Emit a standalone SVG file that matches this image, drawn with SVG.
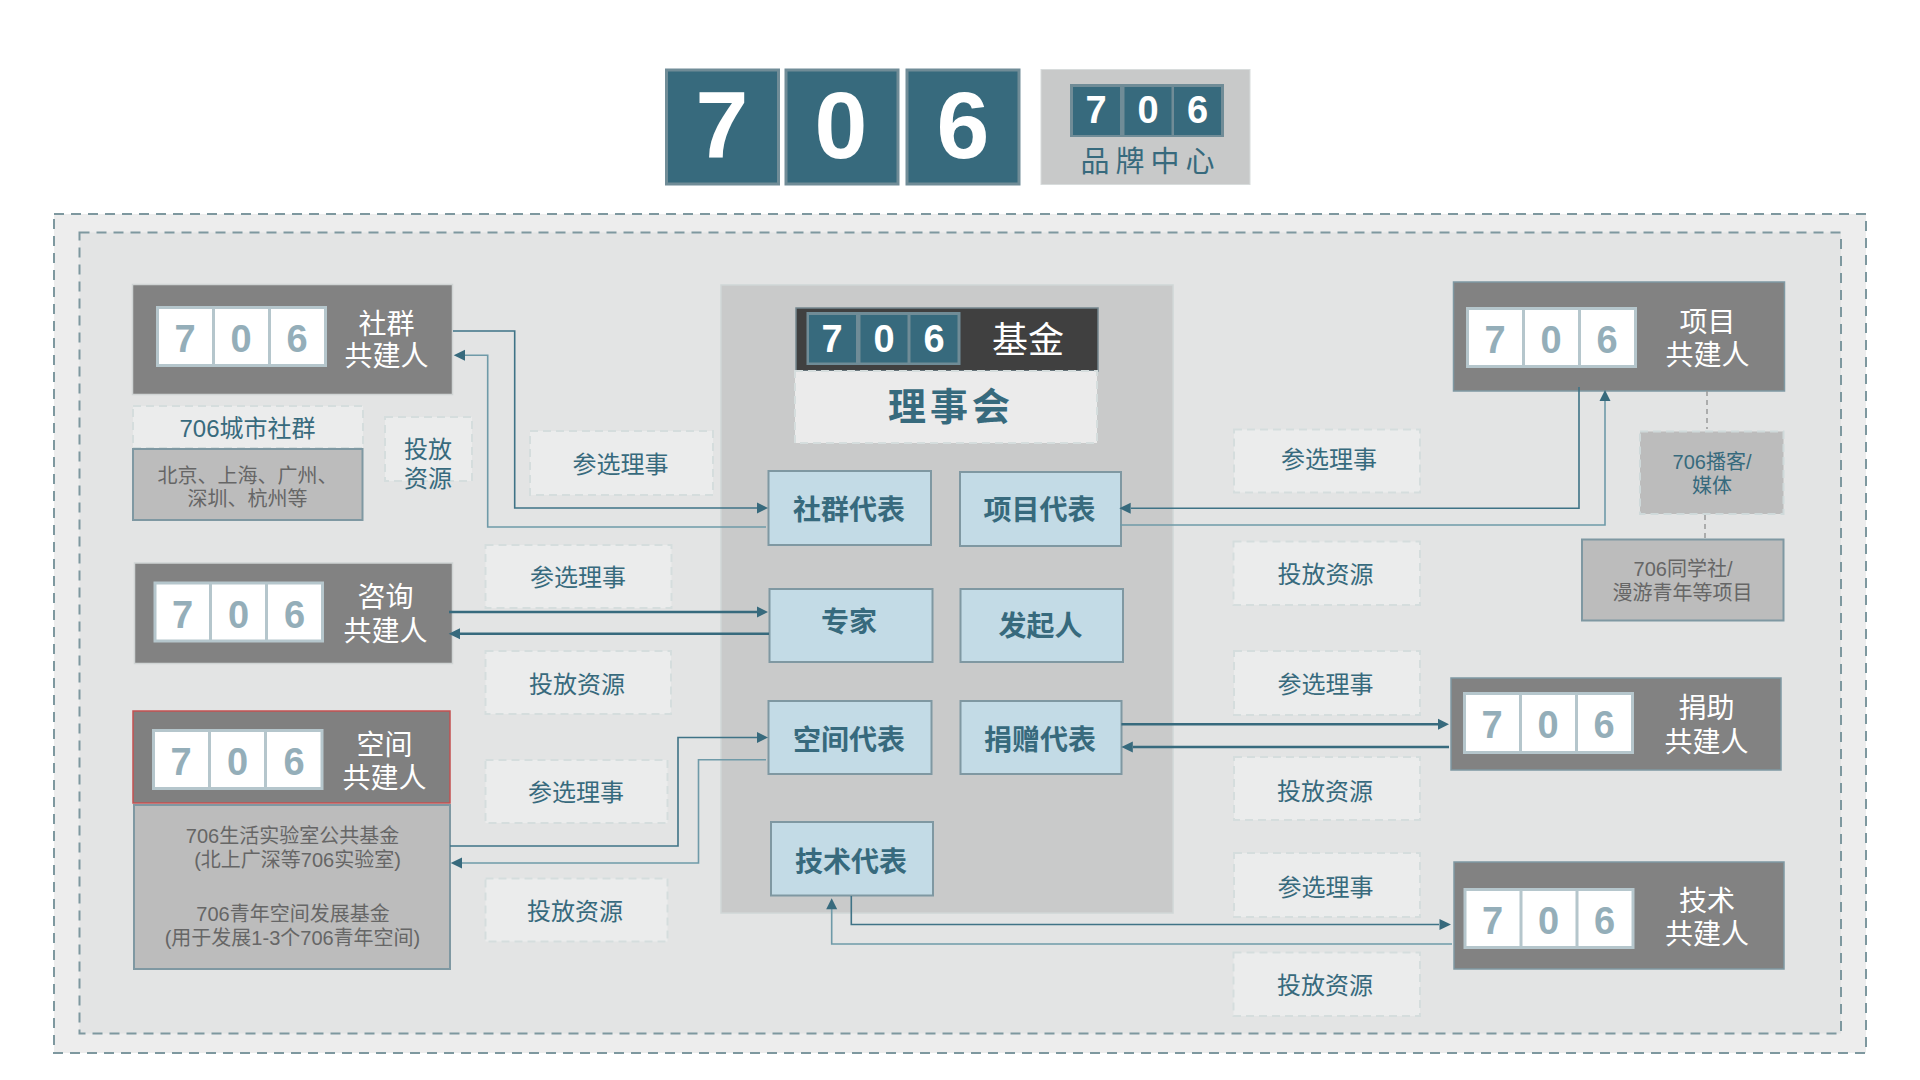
<svg xmlns="http://www.w3.org/2000/svg" width="1920" height="1080" viewBox="0 0 1920 1080">
<style>
text{font-family:"Liberation Sans","Noto Sans CJK SC",sans-serif;text-anchor:middle}
.dk{fill:#376a7d;stroke:#708c97;stroke-width:3}
.big{fill:#fff;font-weight:700;font-size:95px}
.mid{fill:#fff;font-weight:700;font-size:38px}
.nb{fill:#828282;stroke:#7f98a2;stroke-width:1.5}
.wb{fill:#fff;stroke:#b5c6cc;stroke-width:3}
.wd{fill:#94aeb9;font-weight:700;font-size:38px}
.wt{fill:#fff;font-size:28px}
.tag{fill:#ebecec;stroke:#d5dddd;stroke-width:2;stroke-dasharray:8 5}
.tt{fill:#376a7d;font-size:24px}
.rep{fill:#c3dbe6;stroke:#7f98a2;stroke-width:2}
.rt{fill:#376a7d;font-weight:700;font-size:28px}
.gb{fill:#bcbcbc;stroke:#7f98a2;stroke-width:2}
.gt{fill:#666;font-size:20px}
.c1{fill:none;stroke:#3f7386;stroke-width:1.6}
.c2{fill:none;stroke:#6f9aa8;stroke-width:1.6}
.c3{fill:none;stroke:#376a7d;stroke-width:2.4}
.ah{fill:#376a7d}
</style>
<rect width="1920" height="1080" fill="#fff"/>
<g id="frame">
<rect x="54" y="214" width="1812" height="839" fill="#ededed" stroke="#7e989f" stroke-width="2" stroke-dasharray="10 7"/>
<rect x="79.500" y="232.500" width="1761.500" height="801" fill="#e3e4e4" stroke="#7e989f" stroke-width="2" stroke-dasharray="10 7"/>
<rect x="721" y="285" width="452" height="628" fill="#c9caca" stroke="#d0d6d6" stroke-width="1.500"/>
</g>
<g id="logo">
<rect class="dk" x="666.500" y="70" width="112" height="114"/><text class="big" x="722" y="158">7</text>
<rect class="dk" x="786" y="70" width="112" height="114"/><text class="big" x="841" y="158">0</text>
<rect class="dk" x="907" y="70" width="112" height="114"/><text class="big" x="963" y="158">6</text>
</g>
<g id="brand">
<rect x="1041" y="69.500" width="209" height="115" fill="#c8c9c9" stroke="#d8dcdc"/>
<rect x="1070" y="84" width="154" height="53" fill="#708c97"/>
<rect x="1073" y="87" width="47" height="48" fill="#376a7d"/><text class="mid" x="1096" y="123">7</text>
<rect x="1124.500" y="87" width="47" height="48" fill="#376a7d"/><text class="mid" x="1148" y="123">0</text>
<rect x="1174" y="87" width="47" height="48" fill="#376a7d"/><text class="mid" x="1197.500" y="123">6</text>
<text x="1150.500" y="172" fill="#376a7d" font-size="29" letter-spacing="6">品牌中心</text>
</g>
<g id="fund">
<rect x="796" y="308" width="302" height="63" fill="#404040" stroke="#74878f" stroke-width="1.500"/>
<rect x="806.500" y="312" width="154" height="53" fill="#708c97"/>
<rect x="809" y="315" width="47" height="47.500" fill="#376a7d"/><text class="mid" x="832" y="352">7</text>
<rect x="860.500" y="315" width="47" height="47.500" fill="#376a7d"/><text class="mid" x="884" y="352">0</text>
<rect x="910.500" y="315" width="47" height="47.500" fill="#376a7d"/><text class="mid" x="934" y="352">6</text>
<text x="1028" y="353" fill="#fff" font-size="36">基金</text>
</g>
<g id="council">
<rect class="tag" x="795" y="371" width="302" height="72" style="fill:#ebebeb"/>
<text x="951" y="420" fill="#376a7d" font-size="38" font-weight="700" letter-spacing="4">理事会</text>
</g>
<g id="community">
<rect class="nb" x="132.500" y="284.500" width="320" height="110" style="stroke:#d0d4d4"/>
<rect class="wb" x="157.500" y="307.500" width="168" height="58"/>
<path d="M213.500 307.500v58M269.500 307.500v58" stroke="#b5c6cc" stroke-width="3"/>
<text class="wd" x="185" y="352">7</text><text class="wd" x="241" y="352">0</text><text class="wd" x="297" y="352">6</text>
<text class="wt" x="386.500" y="333.500">社群</text><text class="wt" x="386.500" y="366">共建人</text>
</g>
<g id="community-city">
<rect class="tag" x="133" y="406" width="230" height="42"/>
<text class="tt" x="247.500" y="436.500">706城市社群</text>
<rect class="gb" x="133" y="449" width="229.500" height="71"/>
<text class="gt" x="247.500" y="482.500">北京、上海、广州、</text><text class="gt" x="247.500" y="506">深圳、杭州等</text>
</g>
<g id="community-res">
<rect class="tag" x="385" y="417" width="87" height="64"/>
<text class="tt" x="428" y="458">投放</text><text class="tt" x="428" y="487">资源</text>
</g>
<g id="consult">
<rect class="nb" x="134.500" y="563" width="318" height="100.500" style="stroke:#d0d4d4"/>
<rect class="wb" x="155" y="583" width="167.500" height="58"/>
<path d="M210.500 583v58M266.500 583v58" stroke="#b5c6cc" stroke-width="3"/>
<text class="wd" x="182.500" y="628">7</text><text class="wd" x="238.500" y="628">0</text><text class="wd" x="294.500" y="628">6</text>
<text class="wt" x="385.500" y="607">咨询</text><text class="wt" x="385.500" y="640.500">共建人</text>
</g>
<g id="space">
<rect x="133" y="711" width="317" height="92" fill="#808080" stroke="#c45050" stroke-width="1.500"/>
<rect class="wb" x="153.500" y="730.500" width="168.500" height="58"/>
<path d="M209.500 730.500v58M265.500 730.500v58" stroke="#b5c6cc" stroke-width="3"/>
<text class="wd" x="181" y="775">7</text><text class="wd" x="237.500" y="775">0</text><text class="wd" x="294" y="775">6</text>
<text class="wt" x="384.500" y="755">空间</text><text class="wt" x="384.500" y="787.500">共建人</text>
<rect class="gb" x="134" y="805" width="316" height="164"/>
<text class="gt" x="292.500" y="842.500">706生活实验室公共基金</text>
<text class="gt" x="297.500" y="866.500">(北上广深等706实验室)</text>
<text class="gt" x="293" y="920.500">706青年空间发展基金</text>
<text class="gt" x="292.500" y="944.500">(用于发展1-3个706青年空间)</text>
</g>
<g id="project">
<rect class="nb" x="1453.500" y="282" width="331" height="109"/>
<rect class="wb" x="1467.500" y="308.500" width="168" height="58"/>
<path d="M1523.500 308.500v58M1579.500 308.500v58" stroke="#b5c6cc" stroke-width="3"/>
<text class="wd" x="1495" y="353">7</text><text class="wd" x="1551" y="353">0</text><text class="wd" x="1607" y="353">6</text>
<text class="wt" x="1707.500" y="331.500">项目</text><text class="wt" x="1707.500" y="364.500">共建人</text>
</g>
<g id="podcast">
<path d="M1707 391v38M1705 515v24" fill="none" stroke="#999" stroke-width="1.500" stroke-dasharray="5 4"/>
<rect class="gb" x="1640" y="431.500" width="143.500" height="82.500" style="stroke:#cfd9da;stroke-dasharray:8 5"/>
<text class="tt" x="1712" y="469" style="font-size:20px">706播客/</text><text class="tt" x="1712" y="493" style="font-size:20px">媒体</text>
</g>
<g id="classmates">
<rect class="gb" x="1582" y="539.500" width="201.500" height="81"/>
<text class="gt" x="1683" y="576">706同学社/</text><text class="gt" x="1682.500" y="600">漫游青年等项目</text>
</g>
<g id="donate">
<rect class="nb" x="1451" y="678" width="330" height="92"/>
<rect class="wb" x="1464.500" y="693.500" width="168" height="59"/>
<path d="M1520.500 693.500v59M1576.500 693.500v59" stroke="#b5c6cc" stroke-width="3"/>
<text class="wd" x="1492" y="738">7</text><text class="wd" x="1548" y="738">0</text><text class="wd" x="1604" y="738">6</text>
<text class="wt" x="1706.500" y="718">捐助</text><text class="wt" x="1706.500" y="751.500">共建人</text>
</g>
<g id="tech">
<rect class="nb" x="1454" y="862" width="330" height="107"/>
<rect class="wb" x="1465" y="889.500" width="168" height="58"/>
<path d="M1521 889.500v58M1577 889.500v58" stroke="#b5c6cc" stroke-width="3"/>
<text class="wd" x="1492.500" y="934">7</text><text class="wd" x="1548.500" y="934">0</text><text class="wd" x="1604.500" y="934">6</text>
<text class="wt" x="1707" y="910.500">技术</text><text class="wt" x="1707" y="943.500">共建人</text>
</g>
<g id="reps">
<g id="rep-community"><rect class="rep" x="768.500" y="471" width="162.500" height="74"/><text class="rt" x="849" y="520">社群代表</text></g>
<g id="rep-project"><rect class="rep" x="960" y="472" width="161" height="74"/><text class="rt" x="1039.500" y="520">项目代表</text></g>
<g id="rep-expert"><rect class="rep" x="769.500" y="589" width="163" height="73"/><text class="rt" x="849" y="632">专家</text></g>
<g id="rep-founder"><rect class="rep" x="960.500" y="589" width="162.500" height="73"/><text class="rt" x="1040.500" y="636">发起人</text></g>
<g id="rep-space"><rect class="rep" x="768.500" y="701" width="163" height="73"/><text class="rt" x="849" y="749.500">空间代表</text></g>
<g id="rep-donate"><rect class="rep" x="960.500" y="701" width="161" height="73"/><text class="rt" x="1040" y="749.500">捐赠代表</text></g>
<g id="rep-tech"><rect class="rep" x="771" y="822" width="162" height="73.500"/><text class="rt" x="851" y="871.500">技术代表</text></g>
</g>
<g id="tags">
<g id="t1"><rect class="tag" x="530" y="431" width="183" height="64"/><text class="tt" x="620.500" y="473">参选理事</text></g>
<g id="t2"><rect class="tag" x="485.500" y="545" width="186" height="63"/><text class="tt" x="578" y="586">参选理事</text></g>
<g id="t3"><rect class="tag" x="485.500" y="651" width="185.500" height="63"/><text class="tt" x="577" y="693">投放资源</text></g>
<g id="t4"><rect class="tag" x="485.500" y="760" width="182" height="63"/><text class="tt" x="576" y="801">参选理事</text></g>
<g id="t5"><rect class="tag" x="485.500" y="878.500" width="182" height="63"/><text class="tt" x="575" y="920">投放资源</text></g>
<g id="t6"><rect class="tag" x="1234" y="429.500" width="186" height="63"/><text class="tt" x="1329" y="468">参选理事</text></g>
<g id="t7"><rect class="tag" x="1233.500" y="541.500" width="186.500" height="63.500"/><text class="tt" x="1325.500" y="583">投放资源</text></g>
<g id="t8"><rect class="tag" x="1234" y="651" width="186" height="64"/><text class="tt" x="1325.500" y="692.500">参选理事</text></g>
<g id="t9"><rect class="tag" x="1234" y="757" width="186" height="63"/><text class="tt" x="1325" y="799.500">投放资源</text></g>
<g id="t10"><rect class="tag" x="1234" y="853" width="186" height="64"/><text class="tt" x="1325.500" y="896">参选理事</text></g>
<g id="t11"><rect class="tag" x="1233.500" y="952.500" width="186.500" height="63.500"/><text class="tt" x="1325" y="993.500">投放资源</text></g>
</g>
<g id="connectors">
<path class="c1" d="M453 331H514.700V508H757"/><path class="ah" d="M768 508l-11-5.500v11z"/>
<path class="c2" d="M766 527H487.700V355.300H465"/><path class="ah" d="M453.700 355.300l11.300-5.500v11z"/>
<path class="c3" d="M449 612H757"/><path class="ah" d="M768 612l-11-5.500v11z"/>
<path class="c3" d="M769 633.700H460"/><path class="ah" d="M448.700 633.700l11.300-5.500v11z"/>
<path class="c1" d="M450 846H678V737.500H757"/><path class="ah" d="M768 737.500l-11-5.500v11z"/>
<path class="c2" d="M766 759.700H698.500V863H462"/><path class="ah" d="M450.700 863l11.300-5.500v11z"/>
<path class="c1" d="M1579 387V508.300H1131"/><path class="ah" d="M1119.300 508.300l11.400-5.500v11z"/>
<path class="c2" d="M1120 525H1605V400"/><path class="ah" d="M1605 390l-5.500 11h11z"/>
<path class="c3" d="M1121.400 724.300H1438"/><path class="ah" d="M1449 724.300l-11-5.500v11z"/>
<path class="c3" d="M1449 747H1133"/><path class="ah" d="M1121.400 747l11.400-5.500v11z"/>
<path class="c1" d="M851.300 896V924.500H1439"/><path class="ah" d="M1451 924.500l-11.500-5.500v11z"/>
<path class="c2" d="M1452 944H831.700V909"/><path class="ah" d="M831.700 898.300l-5.500 11h11z"/>
</g>
</svg>
